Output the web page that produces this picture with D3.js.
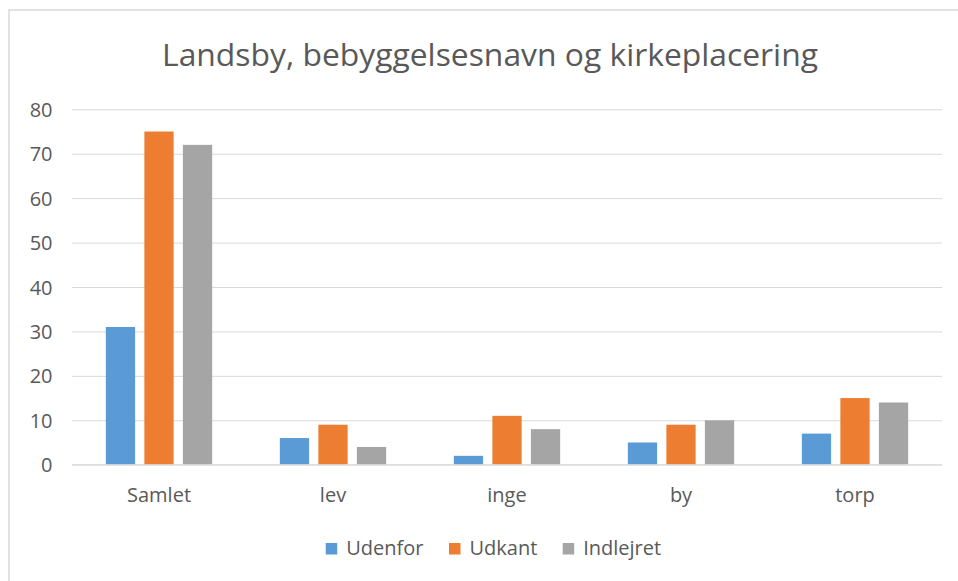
<!DOCTYPE html>
<html>
<head>
<meta charset="utf-8">
<script src="https://cdn.jsdelivr.net/npm/d3@7"></script>
<style>
html,body{margin:0;padding:0;background:#fff;}
svg{display:block;}
text{font-family:"Open Sans",sans-serif;fill:#595959;}
</style>
</head>
<body>
<svg id="chart" width="958" height="581"></svg>
<script>
const title = "Landsby, bebyggelsesnavn og kirkeplacering";
const categories = ["Samlet", "lev", "inge", "by", "torp"];
const seriesNames = ["Udenfor", "Udkant", "Indlejret"];
const udenfor = [31, 6, 2, 5, 7];
const udkant = [75, 9, 11, 9, 15];
const indlejret = [72, 4, 8, 10, 14];
const yTicks = [0, 10, 20, 30, 40, 50, 60, 70, 80];
const colors = ["#5B9BD5", "#ED7D31", "#A5A5A5"];

const seriesValues = [udenfor, udkant, indlejret];

const svg = d3.select("#chart");
const W = 958, H = 581;

// outer chart border
svg.append("rect").attr("x", 9).attr("y", 10).attr("width", W + 20).attr("height", H + 20)
  .attr("fill", "#fff").attr("stroke", "#D9D9D9").attr("stroke-width", 1.5);

const plotLeft = 72, plotRight = 942, plotTop = 109.3, plotBottom = 464.7;

const y = d3.scaleLinear().domain([0, 80]).range([plotBottom, plotTop]);
const x0 = d3.scaleBand().domain(categories).range([plotLeft, plotRight]).paddingInner(0.389).paddingOuter(0.1945);
const x1 = d3.scaleBand().domain(seriesNames).range([0, x0.bandwidth()]).paddingInner(0.24).paddingOuter(0);

// title
const t = svg.append("text").attr("x", 490).attr("y", 66).attr("text-anchor", "middle")
  .style("font-size", "28px").text(title);
const tw = t.node().getComputedTextLength();
t.style("font-size", (28 * 656 / tw) + "px");

// gridlines
const yAxis = d3.axisLeft(y).tickValues(yTicks).tickSize(-(plotRight - plotLeft)).tickPadding(20).tickFormat(d3.format("d"));
const gy = svg.append("g").attr("transform", `translate(${plotLeft},0)`).call(yAxis);
gy.select(".domain").remove();
gy.selectAll(".tick line").attr("stroke", "#D9D9D9").attr("stroke-width", 1);
gy.selectAll(".tick text").style("font-size", "20px").attr("fill", "#595959").attr("x", 52.5 - plotLeft).attr("dy", "0.35em");

// bars
const groups = svg.append("g").selectAll("g").data(categories).join("g")
  .attr("transform", d => `translate(${x0(d)},0)`);
groups.selectAll("rect").data((c, i) => seriesNames.map((s, j) => ({s, j, v: seriesValues[j][i]})))
  .join("rect")
  .attr("x", d => x1(d.s))
  .attr("width", x1.bandwidth())
  .attr("y", d => y(d.v))
  .attr("height", d => y(0) - y(d.v))
  .attr("fill", d => colors[d.j]);

// x axis
const xAxis = d3.axisBottom(x0).tickSize(0).tickPadding(0);
const gx = svg.append("g").attr("transform", `translate(0,${plotBottom})`).call(xAxis);
gx.select(".domain").attr("stroke", "#D9D9D9").attr("d", `M${plotLeft},0H${plotRight}`);
gx.selectAll(".tick text").style("font-size", "20px").attr("fill", "#595959").attr("y", 37.5).attr("dy", 0);

// legend
const legendX = [325.7, 449, 562.7];
const lg = svg.append("g");
seriesNames.forEach((s, i) => {
  lg.append("rect").attr("x", legendX[i]).attr("y", 543).attr("width", 11.5).attr("height", 11.5).attr("fill", colors[i]);
  lg.append("text").attr("x", legendX[i] + 20.5).attr("y", 555).style("font-size", "20px").text(s);
});
</script>
</body>
</html>
